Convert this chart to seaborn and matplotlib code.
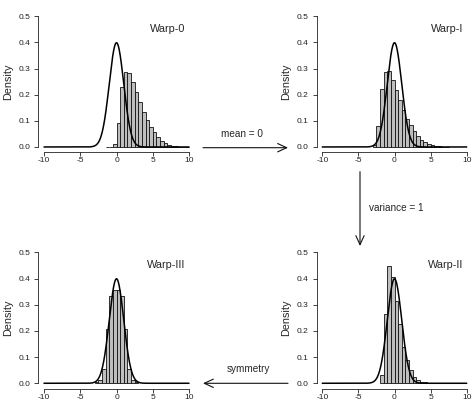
import numpy as np
import pandas as pd
import matplotlib
matplotlib.use("Agg")
import matplotlib.pyplot as plt
import seaborn as sns

sns.set_style("ticks")
plt.rcParams['font.family'] = ['Liberation Sans', 'DejaVu Sans']

# ---- data (bin width 0.5, density heights) ----
bin_width = 0.5
warp0_start = -1.5
warp0_heights = [0, 0, 0.012, 0.09, 0.228, 0.286, 0.284, 0.25, 0.212, 0.173,
                 0.135, 0.103, 0.077, 0.056, 0.037, 0.023, 0.014, 0.009, 0.005,
                 0.003, 0, 0, 0]
warpI_start = -3.0
warpI_heights = [0.008, 0.082, 0.22, 0.287, 0.29, 0.255, 0.217, 0.18, 0.14,
                 0.107, 0.083, 0.061, 0.043, 0.028, 0.019, 0.011, 0.007, 0.004,
                 0.002, 0, 0]
warpII_start = -2.0
warpII_heights = [0.03, 0.265, 0.448, 0.405, 0.314, 0.225, 0.14, 0.09, 0.05,
                  0.023, 0.013, 0.006, 0.003]
warpIII_start = -3.0
warpIII_heights = [0.003, 0.013, 0.055, 0.209, 0.333, 0.356, 0.356, 0.333,
                   0.209, 0.055, 0.013, 0.003]

titles = ["Warp-0", "Warp-I", "Warp-II", "Warp-III"]
x_ticks = [-10, -5, 0, 5, 10]
x_ticklabels = ["-10", "-5", "0", "5", "10"]
y_ticks = [0.0, 0.1, 0.2, 0.3, 0.4, 0.5]
y_ticklabels = ["0.0", "0.1", "0.2", "0.3", "0.4", "0.5"]
arrow_labels = ["mean = 0", "variance = 1", "symmetry"]

W, H = 472, 411
fig = plt.figure(figsize=(W / 100, H / 100), dpi=100)


def rect(l, r, t, b):
    return [l / W, (H - b) / H, (r - l) / W, (b - t) / H]


panels = [
    (rect(38.2, 194.8, 11.1, 152.2), warp0_start, warp0_heights, titles[0]),
    (rect(316.5, 472.5, 11.1, 152.2), warpI_start, warpI_heights, titles[1]),
    (rect(316.5, 472.5, 247.1, 388.5), warpII_start, warpII_heights, titles[2]),
    (rect(38.2, 194.8, 247.1, 388.5), warpIII_start, warpIII_heights, titles[3]),
]

grid = np.linspace(-10, 10, 801)
normal_pdf = np.exp(-grid ** 2 / 2) / np.sqrt(2 * np.pi)

for r, start, heights, title in panels:
    ax = fig.add_axes(r)
    n = len(heights)
    edges = [float(start + bin_width * i) for i in range(n + 1)]
    centers = [e + bin_width / 2 for e in edges[:-1]]
    df = pd.DataFrame({"x": centers, "h": heights})
    sns.histplot(data=df, x="x", weights="h", bins=edges, stat="count",
                 color="#BEBEBE", edgecolor="#111111", linewidth=0.6,
                 alpha=1.0, ax=ax)
    sns.lineplot(x=grid, y=normal_pdf, color="black", lw=1.1, ax=ax)
    ax.set_xlim(-10.8, 10.8)
    ax.set_ylim(-0.02, 0.52)
    ax.set_xticks(x_ticks)
    ax.set_xticklabels(x_ticklabels)
    ax.set_yticks(y_ticks)
    ax.set_yticklabels(y_ticklabels)
    for s in ["top", "right"]:
        ax.spines[s].set_visible(False)
    ax.spines["left"].set_bounds(0, 0.5)
    ax.spines["bottom"].set_bounds(-10, 10)
    for s in ["left", "bottom"]:
        ax.spines[s].set_linewidth(0.6)
        ax.spines[s].set_color("#222222")
    ax.tick_params(axis="both", direction="out", length=2.7, width=0.6,
                   labelsize=6.0, colors="#222222")
    ax.tick_params(axis="x", pad=1.0)
    ax.tick_params(axis="y", pad=3.0)
    ax.set_xlabel("")
    ax.set_ylabel("Density", fontsize=7.8, labelpad=4.0)
    ax.text(9.5, 0.45, title, ha="right", va="center", fontsize=7.8)

arrow_kw = dict(arrowstyle="->,head_length=0.65,head_width=0.3",
                color="#111111", lw=0.8, shrinkA=0, shrinkB=0)
# mean = 0
fig.add_artist(matplotlib.patches.FancyArrowPatch(
    (203 / W, (H - 147.7) / H), (288 / W, (H - 147.7) / H),
    transform=fig.transFigure, mutation_scale=10, **arrow_kw))
fig.text(241.7 / W, (H - 134) / H, arrow_labels[0], ha="center", va="center",
         fontsize=7.2)
# variance = 1
fig.add_artist(matplotlib.patches.FancyArrowPatch(
    (360 / W, (H - 171.7) / H), (360 / W, (H - 246) / H),
    transform=fig.transFigure, mutation_scale=10, **arrow_kw))
fig.text(369 / W, (H - 208) / H, arrow_labels[1], ha="left", va="center",
         fontsize=7.2)
# symmetry
fig.add_artist(matplotlib.patches.FancyArrowPatch(
    (288 / W, (H - 383.3) / H), (203 / W, (H - 383.3) / H),
    transform=fig.transFigure, mutation_scale=10, **arrow_kw))
fig.text(248 / W, (H - 369) / H, arrow_labels[2], ha="center", va="center",
         fontsize=7.2)

fig.savefig("out.png", dpi=100)
